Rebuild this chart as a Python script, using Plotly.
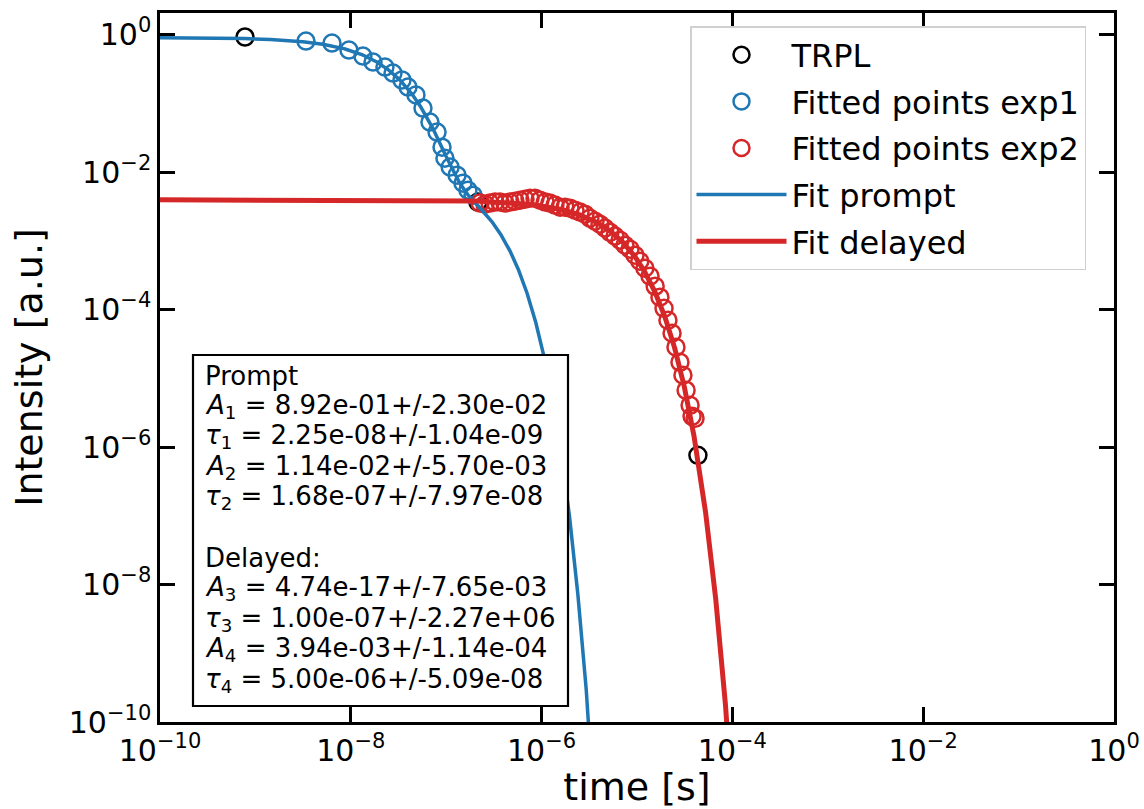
import numpy as np
import plotly.graph_objects as go

# ---- measured decay (points not covered by fitted subsets) ----
trpl_t = [7.78e-10, 2.15e-07, 4.35e-05]
trpl_I = [0.92, 3.65e-03, 7.57e-07]

# ---- points used for the prompt (exp1) fit ----
exp1_t = [3.39e-09, 6.35e-09, 9.57e-09, 1.34e-08, 1.71e-08, 2.28e-08, 2.77e-08,
          3.44e-08, 3.98e-08, 4.82e-08, 5.71e-08, 6.76e-08, 8.02e-08, 9.04e-08,
          9.70e-08, 1.10e-07, 1.30e-07, 1.50e-07, 1.69e-07, 1.91e-07]
exp1_I = [0.804, 0.752, 0.595, 0.486, 0.398, 0.336, 0.275,
          0.218, 0.172, 0.132, 0.0851, 0.0532, 0.0381, 0.0230,
          0.0159, 0.0118, 0.00901, 0.00689, 0.00545, 0.00461]

# ---- points used for the delayed (exp2) fit ----
exp2_t = [2.26e-07, 2.55e-07, 2.88e-07, 3.25e-07, 3.66e-07, 4.13e-07, 4.67e-07,
          5.26e-07, 5.94e-07, 6.70e-07, 7.55e-07, 8.53e-07, 9.62e-07, 1.09e-06,
          1.22e-06, 1.38e-06, 1.56e-06, 1.76e-06, 1.99e-06, 2.24e-06, 2.53e-06,
          2.85e-06, 3.21e-06, 3.63e-06, 4.09e-06, 4.62e-06, 5.21e-06, 5.88e-06,
          6.64e-06, 7.48e-06, 8.45e-06, 9.53e-06, 1.07e-05, 1.21e-05, 1.37e-05,
          1.55e-05, 1.74e-05, 1.92e-05, 2.11e-05, 2.33e-05, 2.56e-05, 2.82e-05,
          3.03e-05, 3.27e-05, 3.60e-05, 3.78e-05, 4.06e-05]
exp2_I = [3.53e-03, 3.41e-03, 3.53e-03, 3.65e-03, 3.65e-03, 3.53e-03, 3.65e-03,
          3.77e-03, 3.90e-03, 4.03e-03, 4.17e-03, 4.17e-03, 3.90e-03, 3.65e-03,
          3.53e-03, 3.30e-03, 3.08e-03, 3.08e-03, 2.98e-03, 2.79e-03, 2.61e-03,
          2.44e-03, 2.13e-03, 1.93e-03, 1.74e-03, 1.53e-03, 1.33e-03, 1.17e-03,
          1.02e-03, 8.63e-04, 7.55e-04, 6.17e-04, 5.05e-04, 3.99e-04, 3.05e-04,
          2.18e-04, 1.51e-04, 1.04e-04, 6.98e-05, 4.52e-05, 2.83e-05, 1.71e-05,
          1.11e-05, 6.69e-06, 4.05e-06, 2.80e-06, 2.62e-06]

# ---- fit parameters (amplitude, lifetime) with uncertainties ----
prompt_amp = [8.92e-01, 1.14e-02]
prompt_amp_err = [2.30e-02, 5.70e-03]
prompt_tau = [2.25e-08, 1.68e-07]
prompt_tau_err = [1.04e-09, 7.97e-08]
delayed_amp = [4.74e-17, 3.94e-03]
delayed_amp_err = [7.65e-03, 1.14e-04]
delayed_tau = [1.00e-07, 5.00e-06]
delayed_tau_err = [2.27e+06, 5.09e-08]

# ---- axis ticks ----
tick_vals = [1e-10, 1e-8, 1e-6, 1e-4, 1e-2, 1e0]
tick_text = ["10<sup>\u221210</sup>", "10<sup>\u22128</sup>", "10<sup>\u22126</sup>",
             "10<sup>\u22124</sup>", "10<sup>\u22122</sup>", "10<sup>0</sup>"]

BLUE = "#1f77b4"
RED = "#d62728"
FONT = "DejaVu Sans"

# figure geometry (pixels)
W, H = 1144, 809
ML, MR, MT, MB = 160, 30, 13, 87
PW, PH = W - ML - MR, H - MT - MB


def px_x(x):
    return (x - ML) / PW


def px_y(y):
    return 1 - (y - MT) / PH


def biexp(t, amps, taus):
    t = np.asarray(t)
    return amps[0] * np.exp(-t / taus[0]) + amps[1] * np.exp(-t / taus[1])


def fit_curve(amps, taus):
    t = np.logspace(-10, 0, 4000)
    y = biexp(t, amps, taus)
    keep = y > 1e-13
    return t[keep], y[keep]


tp, yp = fit_curve(prompt_amp, prompt_tau)
td, yd = fit_curve(delayed_amp, delayed_tau)

fig = go.Figure()
marker_common = dict(symbol="circle-open", size=17)
fig.add_trace(go.Scatter(x=trpl_t, y=trpl_I, mode="markers", name="TRPL", legendgroup="a",
                         marker=dict(color="black", line=dict(width=2.5, color="black"),
                                     **marker_common)))
fig.add_trace(go.Scatter(x=exp1_t, y=exp1_I, mode="markers", name="Fitted points exp1",
                         legendgroup="b",
                         marker=dict(color=BLUE, line=dict(width=2.5, color=BLUE),
                                     **marker_common)))
fig.add_trace(go.Scatter(x=exp2_t, y=exp2_I, mode="markers", name="Fitted points exp2",
                         legendgroup="c",
                         marker=dict(color=RED, line=dict(width=2.5, color=RED),
                                     **marker_common)))
fig.add_trace(go.Scatter(x=tp, y=yp, mode="lines", name="Fit prompt", legendgroup="d",
                         line=dict(color=BLUE, width=3.5)))
fig.add_trace(go.Scatter(x=td, y=yd, mode="lines", name="Fit delayed", legendgroup="e",
                         line=dict(color=RED, width=5)))


def row(sym, idx, val, err):
    return f"<i>{sym}</i><sub>{idx}</sub> = {val:.2e}+/-{err:.2e}"


lines = ["Prompt",
         row("A", 1, prompt_amp[0], prompt_amp_err[0]),
         row("\u03c4", 1, prompt_tau[0], prompt_tau_err[0]),
         row("A", 2, prompt_amp[1], prompt_amp_err[1]),
         row("\u03c4", 2, prompt_tau[1], prompt_tau_err[1]),
         "",
         "Delayed:",
         row("A", 3, delayed_amp[0], delayed_amp_err[0]),
         row("\u03c4", 3, delayed_tau[0], delayed_tau_err[0]),
         row("A", 4, delayed_amp[1], delayed_amp_err[1]),
         row("\u03c4", 4, delayed_tau[1], delayed_tau_err[1])]

# parameter box: frame plus one text line every 30.4 px
box_l, box_r, box_t, box_b = 193, 568, 355, 706
fig.add_shape(type="rect", xref="paper", yref="paper", layer="above",
              x0=px_x(box_l), x1=px_x(box_r), y0=px_y(box_b), y1=px_y(box_t),
              fillcolor="white", line=dict(color="black", width=2.2))
for i, txt in enumerate(lines):
    if not txt:
        continue
    yc = 376 + i * 30.4
    fig.add_annotation(xref="paper", yref="paper", x=px_x(203), y=px_y(yc),
                       xanchor="left", yanchor="middle", align="left", showarrow=False,
                       text=txt, font=dict(family=FONT, size=26, color="black"))

axis_common = dict(type="log", showline=True, linecolor="black", linewidth=2.5,
                   mirror="ticks", ticks="inside", ticklen=15, tickwidth=2.5,
                   tickcolor="black", showgrid=False, zeroline=False, automargin=False,
                   tickvals=tick_vals, ticktext=tick_text,
                   tickfont=dict(family=FONT, size=30, color="black"))

fig.update_xaxes(range=[-10, 0],
                 title=dict(text="time [s]", font=dict(family=FONT, size=38, color="black")),
                 **axis_common)
fig.update_yaxes(range=[-10, 0.313],
                 title=dict(text="Intensity [a.u.]", font=dict(family=FONT, size=38, color="black")),
                 **axis_common)

fig.update_layout(
    width=W, height=H,
    margin=dict(l=ML, r=MR, t=MT, b=MB),
    paper_bgcolor="white", plot_bgcolor="white",
    font=dict(family=FONT, color="black"),
    legend=dict(x=px_x(690), y=px_y(26), xanchor="left", yanchor="top",
                bgcolor="rgba(255,255,255,0.8)", bordercolor="#d0d0d0", borderwidth=1.5,
                font=dict(family=FONT, size=32, color="black"),
                traceorder="grouped", tracegroupgap=2, itemwidth=90),
)

fig.write_html("out.html")
